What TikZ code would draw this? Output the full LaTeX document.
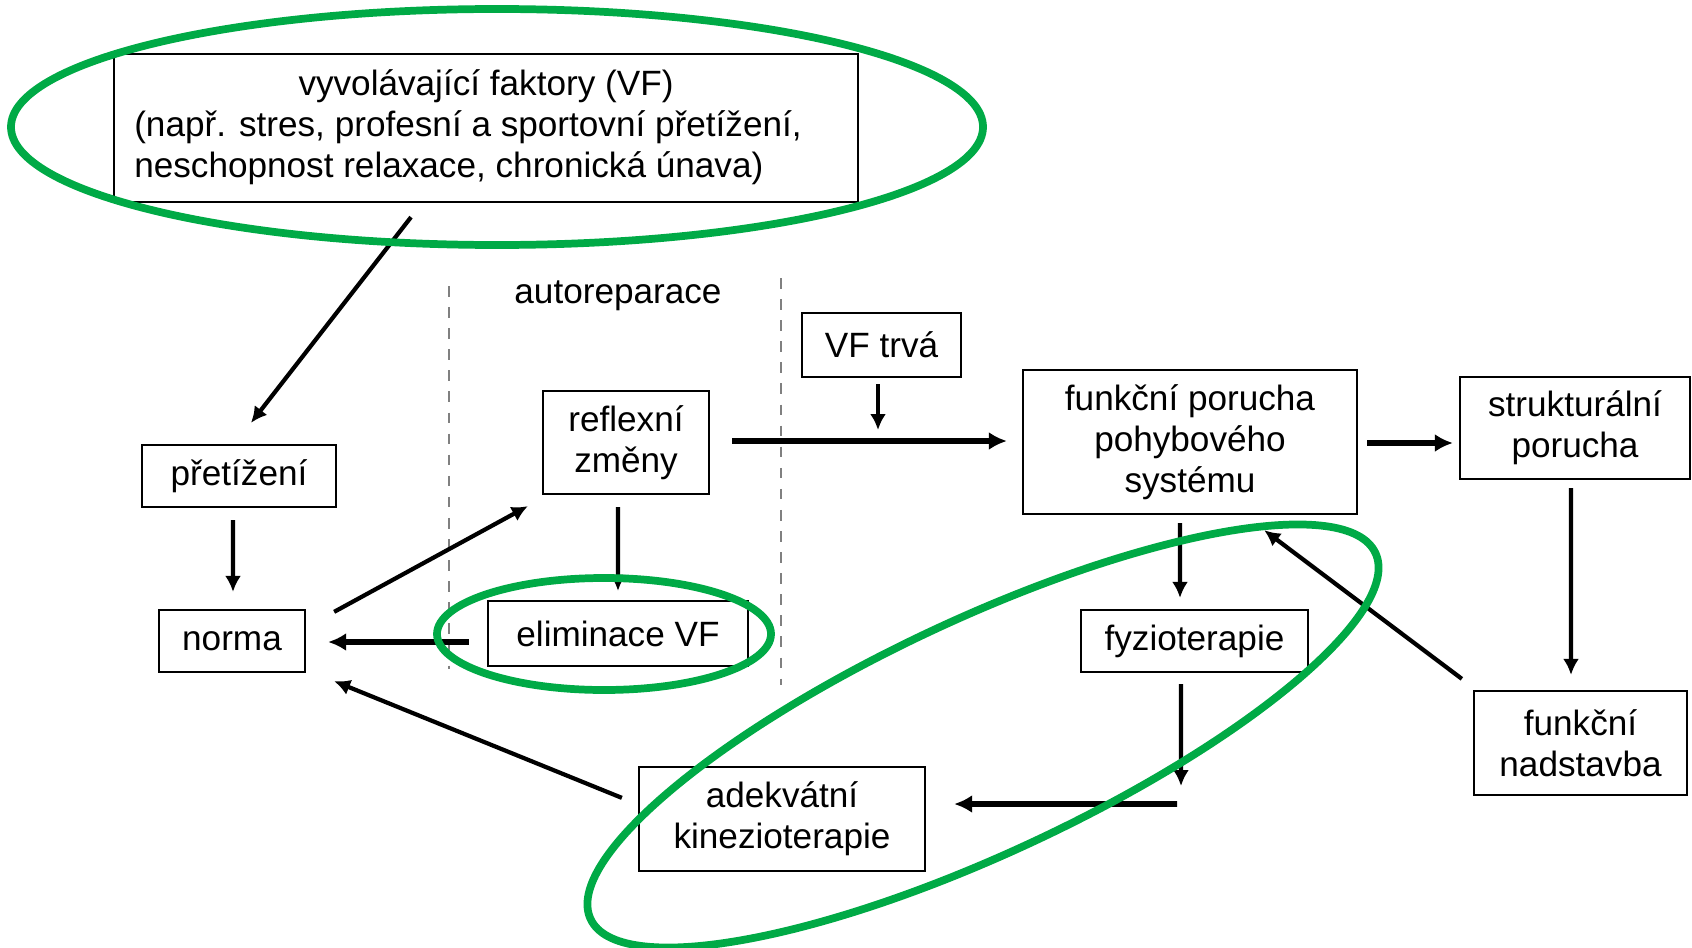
\documentclass[tikz,border=0pt]{standalone}
\usepackage{fontspec}
\setmainfont{Liberation Sans}
\usetikzlibrary{arrows.meta,calc}
\definecolor{ringgreen}{RGB}{0,170,70}

\begin{document}
\begin{tikzpicture}[
    box/.style={draw,line width=0.65pt,align=center,inner sep=0pt,font=\fontsize{10}{11.7}\selectfont},
    arr/.style={-{Latex[length=1.6mm,width=1.6mm]},line width=1.2pt},
    thickarr/.style={-{Latex[length=1.8mm,width=1.8mm]},line width=1.7pt},
    ring/.style={draw=ringgreen,line width=2.2pt}
  ]
      \useasboundingbox (0,0) rectangle (16.92,-9.47);
      \node[box,minimum width=7.44cm,minimum height=1.48cm] (vf) at (4.86,-1.28)
        {\begin{tabular}{@{}l@{\hspace{0.36cm}}}\multicolumn{1}{@{}c@{}}{vyvolávající faktory (VF)}\\
         (např. stres, profesní a sportovní přetížení,\\
         neschopnost relaxace, chronická únava)\end{tabular}};
      \node[box,minimum width=1.94cm,minimum height=0.62cm] (pret) at (2.39,-4.76) {přetížení};
      \node[box,minimum width=1.46cm,minimum height=0.62cm] (norma) at (2.32,-6.41) {norma};
      \node[box,minimum width=1.66cm,minimum height=1.03cm] (reflex) at (6.26,-4.425) {reflexní\\změny};
      \node[box,minimum width=2.60cm,minimum height=0.65cm] (elim) at (6.18,-6.335) {eliminace VF};
      \node[box,minimum width=1.59cm,minimum height=0.64cm] (trva) at (8.815,-3.45) {VF trvá};
      \node[box,minimum width=3.34cm,minimum height=1.44cm] (porucha) at (11.90,-4.42) {funkční porucha\\pohybového\\systému};
      \node[box,minimum width=2.30cm,minimum height=1.02cm] (strukt) at (15.75,-4.28) {strukturální\\porucha};
      \node[box,minimum width=2.27cm,minimum height=0.62cm] (fyzio) at (11.945,-6.41) {fyzioterapie};
      \node[box,minimum width=2.86cm,minimum height=1.04cm] (adek) at (7.82,-8.19) {adekvátní\\kinezioterapie};
      \node[box,minimum width=2.13cm,minimum height=1.04cm] (nadst) at (15.805,-7.43) {funkční\\nadstavba};
      \node[font=\fontsize{10}{11.7}\selectfont] (auto) at (6.18,-2.96) {autoreparace};

      % hranice autoreparace
      \draw[dashed,gray,line width=0.4pt] (4.49,-2.86) -- (4.49,-6.69);
      \draw[dashed,gray,line width=0.4pt] (7.81,-2.78) -- (7.81,-6.85);

      \coordinate (trvaend) at (8.78,-4.30);
      \coordinate (fyzioend) at (11.81,-7.86);
      \coordinate (kinstart) at (11.77,-8.04);

      \draw[arr] ($(vf.south)+(-0.75,-0.14)$) -- ($(pret.north)+(0.12,0.21)$);
      \draw[arr] ($(pret.south)+(-0.06,-0.12)$) -- ($(norma.north)+(0.01,0.17)$);
      \draw[arr] ($(norma.north east)+(0.28,-0.03)$) -- ($(reflex.south west)+(-0.14,-0.11)$);
      \draw[arr] ($(reflex.south)+(-0.08,-0.12)$) -- ($(elim.north)+(0,0.09)$);
      \draw[thickarr] ($(elim.west)+(-0.18,-0.085)$) -- ($(norma.east)+(0.22,-0.01)$);
      \draw[arr] ($(adek.north west)+(-0.16,-0.32)$) -- ($(norma.south east)+(0.28,-0.08)$);
      \draw[thickarr] ($(reflex.east)+(0.22,0.015)$) -- ($(porucha.west)+(-0.15,0.01)$);
      \draw[arr] ($(trva.south)+(-0.035,-0.06)$) -- (trvaend);
      \draw[thickarr] ($(porucha.east)+(0.09,-0.01)$) -- ($(strukt.west)+(-0.06,-0.15)$);
      \draw[arr] ($(porucha.south)+(-0.10,-0.08)$) -- ($(fyzio.north)+(-0.145,0.11)$);
      \draw[arr] ($(fyzio.south)+(-0.135,-0.11)$) -- (fyzioend);
      \draw[thickarr] (kinstart) -- ($(adek.east)+(0.28,0.15)$);
      \draw[arr] ($(strukt.south)+(-0.04,-0.08)$) -- ($(nadst.north)+(-0.095,0.15)$);
      \draw[arr] ($(nadst.north west)+(-0.11,0.11)$) -- ($(porucha.south east)+(-0.94,-0.15)$);

      % zelene zvyrazneni
      \draw[ring] (4.97,-1.27) ellipse [x radius=4.86cm, y radius=1.18cm];
      \draw[ring] (6.04,-6.34) ellipse [x radius=1.67cm, y radius=0.56cm];
      \draw[ring,rotate around={25:(9.83,-7.36)}] (9.83,-7.36) ellipse [x radius=4.33cm, y radius=1.17cm];
    \end{tikzpicture}
\end{document}
